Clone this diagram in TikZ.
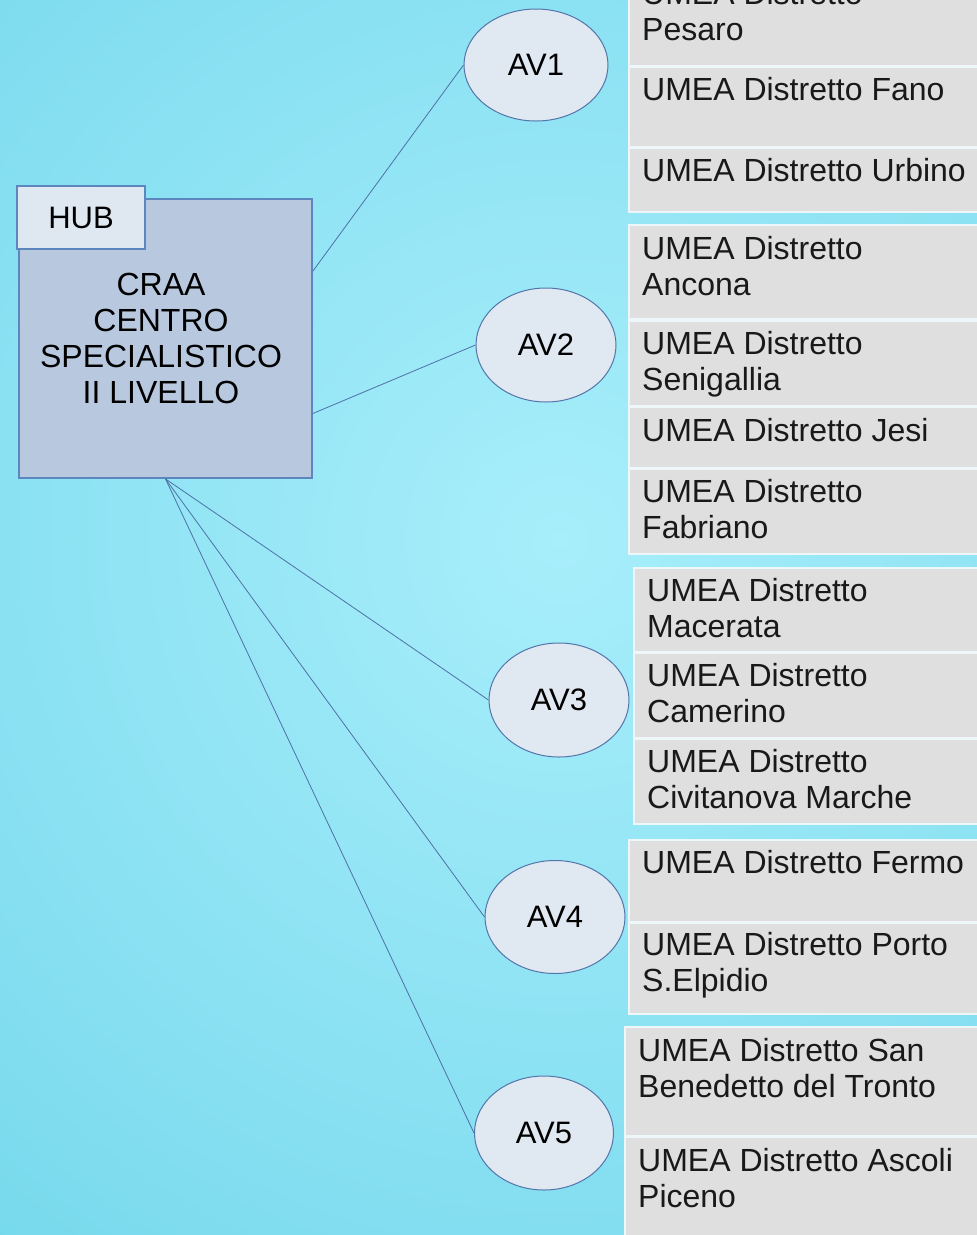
\documentclass[tikz,border=0pt]{standalone}
\usepackage{fontspec}
\setmainfont{Liberation Sans}
\usetikzlibrary{shapes.geometric,calc}
\definecolor{bgin}{HTML}{A8EEFB}
\definecolor{bgout}{HTML}{62D0E6}
\definecolor{rowfill}{HTML}{DFDFDF}
\definecolor{rowline}{HTML}{EDF6F8}
\definecolor{avfill}{HTML}{E0E8F2}
\definecolor{avline}{HTML}{5475AA}
\definecolor{hubfill}{HTML}{B7C8DF}
\definecolor{hubline}{HTML}{5E86BE}
\definecolor{labfill}{HTML}{DFE7F1}
\definecolor{connline}{HTML}{4F70A6}
\begin{document}
\begin{tikzpicture}[x=1pt,y=-1pt,
  rowbox/.style={draw=rowline, fill=rowfill, line width=2pt, anchor=north west, inner sep=0pt, minimum width=380pt},
  rowtext/.style={anchor=base west, align=left, inner sep=0pt, font=\fontsize{32}{36}\selectfont, text=black!90},
  av/.style={ellipse, draw=avline, fill=avfill, line width=1pt, inner sep=0pt, font=\fontsize{31}{36}\selectfont},
  hubbox/.style={draw=hubline, fill=hubfill, line width=1.8pt, inner sep=0pt},
  hubtext/.style={align=center, inner sep=0pt, font=\fontsize{32}{36}\selectfont},
  hublabel/.style={draw=hubline, fill=labfill, line width=1.4pt, inner sep=0pt, font=\fontsize{31}{36}\selectfont},
  conn/.style={draw=connline, line width=0.8pt}]
\useasboundingbox (0,0) rectangle (977,1235);
\begin{scope}
\clip (0,0) rectangle (977,1235);
\shade[inner color=bgin, outer color=bgout] (560,540) circle (1300);

% hub
\node[hubbox, minimum width=293pt, minimum height=279pt] (hub) at (165.5,338.5) {};
\node[hubtext] (hubt) at (161,338) {CRAA\\CENTRO\\SPECIALISTICO\\II LIVELLO};
\node[hublabel, minimum width=128pt, minimum height=63pt] (hublab) at (81,217.5) {HUB};

% ellipses
\node[av, minimum width=144pt, minimum height=112pt] (av1) at (536,65) {AV1};
\node[av, minimum width=140pt, minimum height=114pt] (av2) at (546,345) {AV2};
\node[av, minimum width=140pt, minimum height=114pt] (av3) at (559,700) {AV3};
\node[av, minimum width=140pt, minimum height=113pt] (av4) at (555,917) {AV4};
\node[av, minimum width=139pt, minimum height=114pt] (av5) at (544,1133) {AV5};

% connectors
\coordinate (h1) at ($(hub.north east)!0.26!(hub.south east)$);
\coordinate (h2) at ($(hub.north east)!0.767!(hub.south east)$);
\draw[conn] (h1) -- (av1.west);
\draw[conn] (h2) -- (av2.west);
\draw[conn] (hub.south) -- (av3.west);
\draw[conn] (hub.south) -- (av4.west);
\draw[conn] (hub.south) -- (av5.west);

% group AV1
\node[rowbox, minimum height=95pt] (g1a) at (628,-30) {};
\node[rowbox, minimum height=80pt] (g1b) at (628,66) {};
\node[rowbox, minimum height=64pt] (g1c) at (628,147) {};
\node[rowtext] (t1a) at ($(g1a.north west)+(14,70)$) {UMEA Distretto\\Pesaro};
\node[rowtext] (t1b) at ($(g1b.north west)+(14,34)$) {UMEA Distretto Fano};
\node[rowtext] (t1c) at ($(g1c.north west)+(14,34)$) {UMEA Distretto Urbino};

% group AV2
\node[rowbox, minimum height=94pt] (g2a) at (628,224) {};
\node[rowbox, minimum height=85pt] (g2b) at (628,320) {};
\node[rowbox, minimum height=61pt] (g2c) at (628,406) {};
\node[rowbox, minimum height=85pt] (g2d) at (628,468) {};
\node[rowtext] (t2a) at ($(g2a.north west)+(14,71)$) {UMEA Distretto\\Ancona};
\node[rowtext] (t2b) at ($(g2b.north west)+(14,70)$) {UMEA Distretto\\Senigallia};
\node[rowtext] (t2c) at ($(g2c.north west)+(14,35)$) {UMEA Distretto Jesi};
\node[rowtext] (t2d) at ($(g2d.north west)+(14,70)$) {UMEA Distretto\\Fabriano};

% group AV3
\node[rowbox, minimum height=84pt] (g3a) at (633,567) {};
\node[rowbox, minimum height=85pt] (g3b) at (633,652) {};
\node[rowbox, minimum height=85pt] (g3c) at (633,738) {};
\node[rowtext] (t3a) at ($(g3a.north west)+(14,70)$) {UMEA Distretto\\Macerata};
\node[rowtext] (t3b) at ($(g3b.north west)+(14,70)$) {UMEA Distretto\\Camerino};
\node[rowtext] (t3c) at ($(g3c.north west)+(14,70)$) {UMEA Distretto\\Civitanova Marche};

% group AV4
\node[rowbox, minimum height=82pt] (g4a) at (628,839) {};
\node[rowbox, minimum height=91pt] (g4b) at (628,922) {};
\node[rowtext] (t4a) at ($(g4a.north west)+(14,34)$) {UMEA Distretto Fermo};
\node[rowtext] (t4b) at ($(g4b.north west)+(14,69)$) {UMEA Distretto Porto\\S.Elpidio};

% group AV5
\node[rowbox, minimum height=109pt] (g5a) at (624,1026) {};
\node[rowbox, minimum height=110pt] (g5b) at (624,1136) {};
\node[rowtext] (t5a) at ($(g5a.north west)+(14,71)$) {UMEA Distretto San\\Benedetto del Tronto};
\node[rowtext] (t5b) at ($(g5b.north west)+(14,71)$) {UMEA Distretto Ascoli\\Piceno};
\end{scope}
\end{tikzpicture}
\end{document}
